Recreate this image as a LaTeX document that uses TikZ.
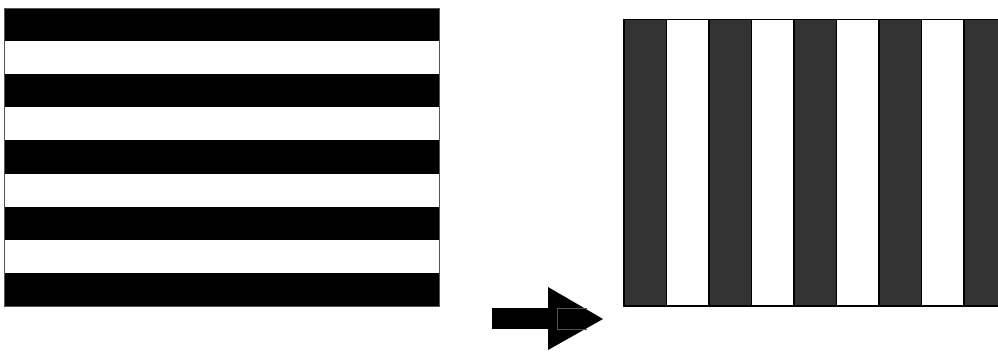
\documentclass[tikz,border=0pt]{standalone}
\definecolor{darkstripe}{HTML}{333333}
\definecolor{edgegray}{HTML}{555555}
\tikzset{
  blackband/.style={fill=black, draw=none},
  panelframe/.style={draw=edgegray, line width=0.8pt},
  darkband/.style={fill=darkstripe, draw=black, line width=1.5pt},
  lightband/.style={fill=white, draw=black, line width=1.5pt},
}
\begin{document}
\begin{tikzpicture}[x=1pt, y=-1pt]
\useasboundingbox (0,0) rectangle (998,351);
% left panel: horizontal stripes
\fill[white] (4.5,8) rectangle (439,306);
\foreach \i in {0,2,4,6,8} {
  \fill[blackband] (4.5,{8+\i*33.11}) rectangle (439,{8+(\i+1)*33.11});
}
\draw[panelframe] (4.5,8) rectangle (439,306);
% right panel: vertical stripes
\foreach \i in {0,2,4,6,8} {
  \draw[darkband] ({624+\i*42.5},19.5) rectangle ({624+(\i+1)*42.5},306);
}
\foreach \i in {1,3,5,7} {
  \draw[lightband] ({624+\i*42.5},19.5) rectangle ({624+(\i+1)*42.5},306);
}
% arrow
\fill[black] (548,287) -- (603,319) -- (548,350) -- cycle;
\fill[black] (492,308) rectangle (557,329);
\draw[edgegray, line width=0.6pt] (557,308) -- (587,308);
\draw[edgegray, line width=0.6pt] (557,308) -- (557,329) -- (587,329);
\end{tikzpicture}
\end{document}
